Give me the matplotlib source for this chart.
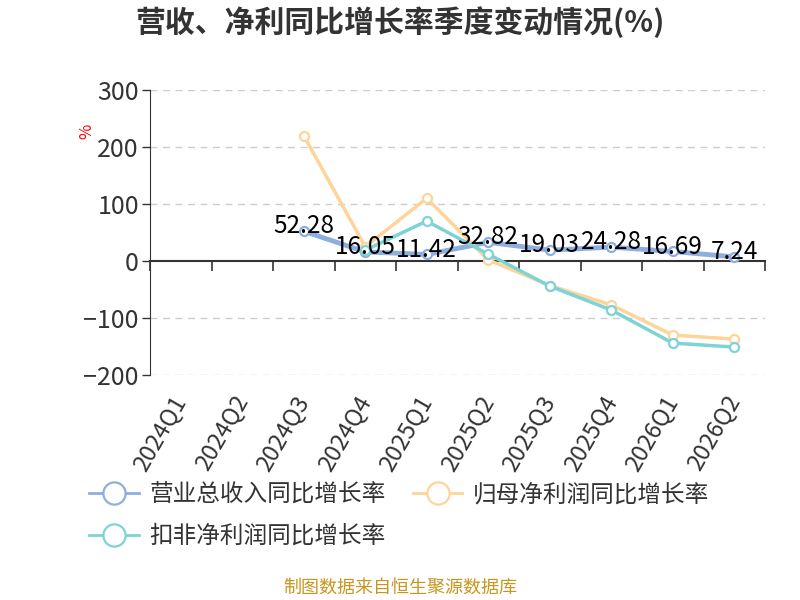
import numpy as np
import matplotlib.pyplot as plt
from matplotlib.lines import Line2D

plt.rcParams['font.family'] = ['Noto Sans CJK SC', 'DejaVu Sans']

quarters = ['2024Q1', '2024Q2', '2024Q3', '2024Q4', '2025Q1',
            '2025Q2', '2025Q3', '2025Q4', '2026Q1', '2026Q2']
revenue_yoy = [np.nan, np.nan, 52.28, 16.05, 11.42, 32.82, 19.03, 24.28, 16.69, 7.24]
parent_profit_yoy = [np.nan, np.nan, 220, 25, 110, 2, -43, -77, -130, -137]
deducted_profit_yoy = [np.nan, np.nan, np.nan, 19, 70, 12, -44, -86, -144, -151]

names = ['营业总收入同比增长率', '归母净利润同比增长率', '扣非净利润同比增长率']
colors = ['#8eaee0', '#fdd49a', '#7dd3d5']

fig = plt.figure(figsize=(8, 6), dpi=100)
ax = fig.add_axes([150 / 800, 1 - 375 / 600, 615 / 800, 285 / 600])

x = np.arange(len(quarters))
series = [revenue_yoy, parent_profit_yoy, deducted_profit_yoy]
widths = [3.5, 2.5, 2.5]
for vals, c, lw in zip(series, colors, widths):
    ax.plot(x, vals, color=c, lw=lw, marker='o', markersize=6.5,
            markerfacecolor='white', markeredgecolor=c, markeredgewidth=1.6,
            solid_capstyle='round')

for i, v in enumerate(revenue_yoy):
    if not np.isnan(v):
        ax.annotate(f'{v:.2f}', (i, v), xytext=(0, 3.5), textcoords='offset points',
                    ha='center', va='center', fontsize=17.5, color='black', zorder=5)

ax.set_xlim(-0.5, len(quarters) - 0.5)
ax.set_ylim(-200, 300)
ax.set_yticks([-200, -100, 0, 100, 200, 300])
ax.tick_params(axis='y', labelsize=18, colors='#333333', length=6, width=1, pad=2)
for yv in [-200, -100, 100, 200, 300]:
    ax.axhline(yv, color='#cccccc', lw=1, ls=(0, (5, 4)), zorder=0)

for s in ['top', 'right', 'bottom']:
    ax.spines[s].set_visible(False)
ax.spines['left'].set_color('#333333')

ax.set_xticks(x)
ax.set_xticklabels(quarters, rotation=60, ha='right', va='center',
                   rotation_mode='anchor', fontsize=17, color='#333333')
ax.tick_params(axis='x', length=0, pad=16)

zero_axis = ax.secondary_xaxis(0.4)
zero_axis.set_xticks(np.arange(len(quarters) + 1) - 0.5)
zero_axis.set_xticklabels([])
zero_axis.tick_params(length=7, width=1.2, color='#333333')
zero_axis.spines['bottom'].set_color('#333333')
zero_axis.spines['bottom'].set_linewidth(1.5)

ax.text(-0.103, 0.855, '%', transform=ax.transAxes, color='red', fontsize=12,
        rotation=90, ha='center', va='center')

fig.text(0.5, 1 - 22 / 600, '营收、净利同比增长率季度变动情况(%)', ha='center',
         va='center', fontsize=21.5, fontweight='bold', color='#333333')

handles = [Line2D([], [], color=c, lw=2, marker='o', markersize=16,
                  markerfacecolor='white', markeredgecolor=c, markeredgewidth=1.6)
           for c in colors]
order = [0, 2, 1]
fig.legend([handles[k] for k in order], [names[k] for k in order], loc='upper left',
           bbox_to_anchor=(68 / 800, 1 - 462 / 600), ncol=2, frameon=False,
           fontsize=17, handlelength=2.1, handletextpad=0.45, columnspacing=1.15,
           labelspacing=0.8, labelcolor='#333333')

fig.text(0.5, 1 - 588 / 600, '制图数据来自恒生聚源数据库', ha='center', va='center',
         fontsize=13, color='#c8961e')

fig.savefig('out.png', dpi=100)
